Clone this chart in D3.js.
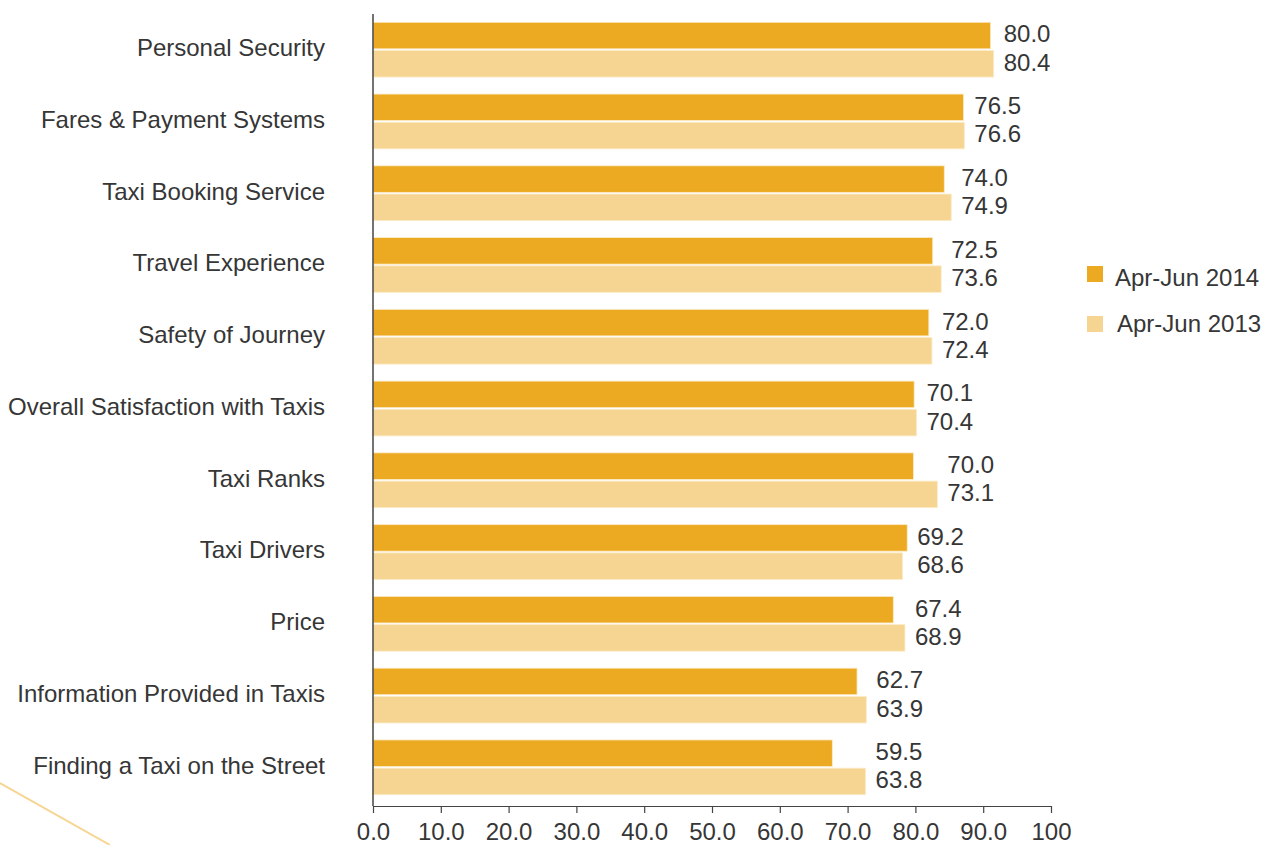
<!DOCTYPE html>
<html>
<head>
<meta charset="utf-8">
<script src="https://cdn.jsdelivr.net/npm/d3@7"></script>
<style>
  html, body { margin: 0; padding: 0; background: #fff; }
  svg { display: block; }
  text { font-family: "Liberation Sans", Arial, sans-serif; fill: #363636; }
</style>
</head>
<body>
<svg id="chart" width="1268" height="845"></svg>
<script>
// Taxi customer satisfaction scores by aspect
const categories = [
  "Personal Security",
  "Fares & Payment Systems",
  "Taxi Booking Service",
  "Travel Experience",
  "Safety of Journey",
  "Overall Satisfaction with Taxis",
  "Taxi Ranks",
  "Taxi Drivers",
  "Price",
  "Information Provided in Taxis",
  "Finding a Taxi on the Street"
];
const values2014 = [80.0, 76.5, 74.0, 72.5, 72.0, 70.1, 70.0, 69.2, 67.4, 62.7, 59.5];
const values2013 = [80.4, 76.6, 74.9, 73.6, 72.4, 70.4, 73.1, 68.6, 68.9, 63.9, 63.8];
const seriesNames = ["Apr-Jun 2014", "Apr-Jun 2013"];
const tickLabels = ["0.0", "10.0", "20.0", "30.0", "40.0", "50.0", "60.0", "70.0", "80.0", "90.0", "100"];

const colors = ["#ECAA22", "#F6D592"];
const fontSize = 24;

const svg = d3.select("#chart");

// layout
const plotLeft = 373, axisRight = 1051, plotTop = 22.3, plotBottom = 794.7, axisY = 806;

// value scale used for bar lengths
const x = d3.scaleLinear().domain([0, 100]).range([plotLeft, plotLeft + 772]);

// evenly spaced axis tick labels
const xTicks = d3.scalePoint().domain(tickLabels).range([plotLeft, axisRight]);

const y = d3.scaleBand().domain(categories)
  .range([plotTop, plotBottom])
  .paddingInner(17 / 71.8).paddingOuter(0);
const ySub = d3.scaleBand().domain(seriesNames).range([0, y.bandwidth()]).paddingInner(0.06);

const rows = categories.map((c, i) => ({ cat: c, vals: [values2014[i], values2013[i]] }));

// decorative stroke in the lower-left corner
svg.append("line")
  .attr("x1", 0).attr("y1", 783).attr("x2", 110).attr("y2", 845)
  .attr("stroke", "#F6D592").attr("stroke-width", 2);

const g = svg.append("g");

const group = g.selectAll("g.row").data(rows).join("g")
  .attr("class", "row")
  .attr("transform", d => `translate(0,${y(d.cat)})`);

group.selectAll("rect").data(d => d.vals.map((v, j) => ({ v, s: seriesNames[j], j })))
  .join("rect")
  .attr("x", x(0))
  .attr("y", d => ySub(d.s))
  .attr("width", d => x(d.v) - x(0))
  .attr("height", ySub.bandwidth())
  .attr("fill", d => colors[d.j])
  .attr("stroke", "#FBEBC8")
  .attr("stroke-width", 0.8);

// value labels, aligned after the longer bar of each pair
group.selectAll("text.val").data(d => d.vals.map((v, j) => ({ v, s: seriesNames[j], max: d3.max(d.vals) })))
  .join("text")
  .attr("class", "val")
  .attr("x", d => x(d.max) + 10)
  .attr("y", d => ySub(d.s) + ySub.bandwidth() / 2 - 1.5)
  .attr("dy", "0.35em")
  .attr("font-size", fontSize)
  .text(d => d.v.toFixed(1));

// category labels
g.selectAll("text.cat").data(categories).join("text")
  .attr("class", "cat")
  .attr("x", 325)
  .attr("y", d => y(d) + y.bandwidth() / 2 - 2)
  .attr("dy", "0.35em")
  .attr("text-anchor", "end")
  .attr("font-size", fontSize)
  .text(d => d);

// vertical axis line
svg.append("line")
  .attr("x1", plotLeft).attr("x2", plotLeft).attr("y1", 14).attr("y2", axisY)
  .attr("stroke", "#444").attr("stroke-width", 1.5);

// bottom axis
const axis = svg.append("g")
  .attr("transform", `translate(0,${axisY})`)
  .call(d3.axisBottom(xTicks).tickSize(7).tickSizeOuter(0));
axis.select(".domain").attr("stroke", "#444").attr("stroke-width", 1.2);
axis.selectAll(".tick line").attr("stroke", "#444").attr("stroke-width", 1.2);
axis.selectAll(".tick text")
  .attr("y", 17)
  .attr("font-size", fontSize)
  .attr("font-family", "Liberation Sans, Arial, sans-serif")
  .attr("fill", "#363636");

// legend
const legend = svg.append("g").attr("transform", "translate(1087,266)");
const li = legend.selectAll("g").data(seriesNames).join("g")
  .attr("transform", (d, i) => `translate(0,${i * 50})`);
li.append("rect").attr("width", 16).attr("height", 16).attr("fill", (d, i) => colors[i]);
li.append("text")
  .attr("x", (d, i) => 28 + i * 2)
  .attr("y", (d, i) => 12 - i * 4)
  .attr("dy", "0.35em")
  .attr("font-size", fontSize)
  .text(d => d);
</script>
</body>
</html>
